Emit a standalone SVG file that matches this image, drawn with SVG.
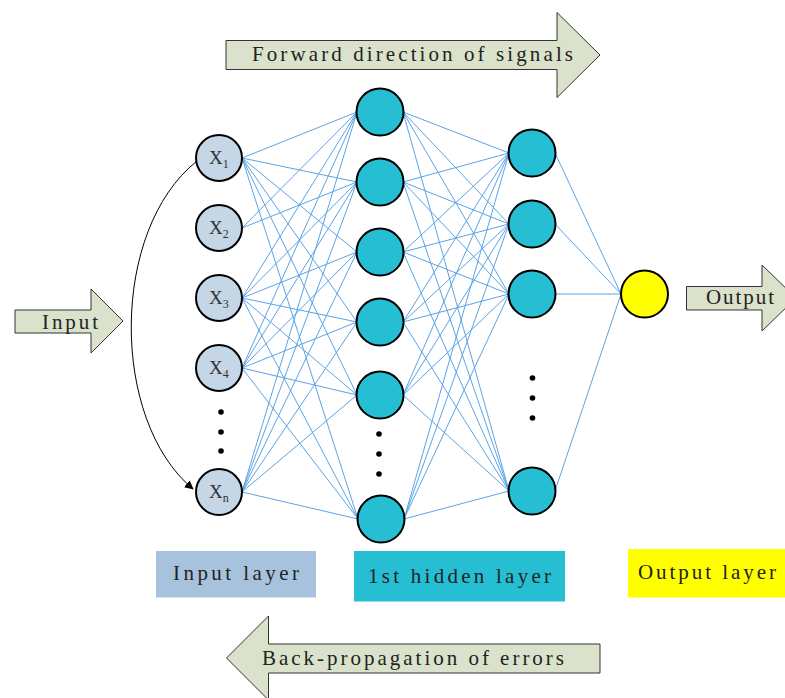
<svg xmlns="http://www.w3.org/2000/svg" width="785" height="698" viewBox="0 0 785 698">
<style>
.e{stroke:#5BA3E6;stroke-width:1;fill:none}
.in{fill:#C5D6E6;stroke:#000;stroke-width:2}
.hd{fill:#26BED3;stroke:#000;stroke-width:2}
.out{fill:#FFFF00;stroke:#000;stroke-width:2}
.ba{fill:#DAE2CC;stroke:#333;stroke-width:1}
.t{font-family:"Liberation Serif",serif;font-size:21px;fill:#222}
.x{font-family:"Liberation Serif",serif;font-size:19px;fill:#333}
.xs{font-size:12px}
.dot{fill:#000}
</style>
<defs>
<marker id="ah" viewBox="0 0 10 10" refX="9" refY="5" markerWidth="9" markerHeight="9" markerUnits="userSpaceOnUse" orient="auto">
<path d="M0,0 L10,5 L0,10 z" fill="#000"/>
</marker>
</defs>
<rect width="785" height="698" fill="#fff"/>

<g id="connectors">
<g class="e">
<line x1="242" y1="158" x2="357" y2="112"/><line x1="242" y1="158" x2="357" y2="182"/><line x1="242" y1="158" x2="357" y2="252"/><line x1="242" y1="158" x2="357" y2="322"/><line x1="242" y1="158" x2="357" y2="395"/><line x1="242" y1="158" x2="358" y2="519"/>
<line x1="242" y1="228" x2="357" y2="112"/><line x1="242" y1="228" x2="357" y2="182"/>
<line x1="242" y1="298" x2="357" y2="112"/><line x1="242" y1="298" x2="357" y2="182"/><line x1="242" y1="298" x2="357" y2="252"/><line x1="242" y1="298" x2="357" y2="322"/><line x1="242" y1="298" x2="357" y2="395"/><line x1="242" y1="298" x2="358" y2="519"/>
<line x1="242" y1="368" x2="357" y2="112"/><line x1="242" y1="368" x2="357" y2="182"/><line x1="242" y1="368" x2="357" y2="252"/><line x1="242" y1="368" x2="357" y2="322"/><line x1="242" y1="368" x2="357" y2="395"/><line x1="242" y1="368" x2="358" y2="519"/>
<line x1="242" y1="492" x2="357" y2="112"/><line x1="242" y1="492" x2="357" y2="182"/><line x1="242" y1="492" x2="357" y2="252"/><line x1="242" y1="492" x2="357" y2="322"/><line x1="242" y1="492" x2="357" y2="395"/><line x1="242" y1="492" x2="358" y2="519"/>

<line x1="403" y1="112" x2="509" y2="153"/><line x1="403" y1="112" x2="509" y2="224"/><line x1="403" y1="112" x2="509" y2="294"/><line x1="403" y1="112" x2="509" y2="491"/>
<line x1="403" y1="182" x2="509" y2="153"/><line x1="403" y1="182" x2="509" y2="224"/><line x1="403" y1="182" x2="509" y2="294"/><line x1="403" y1="182" x2="509" y2="491"/>
<line x1="403" y1="252" x2="509" y2="153"/><line x1="403" y1="252" x2="509" y2="224"/><line x1="403" y1="252" x2="509" y2="294"/><line x1="403" y1="252" x2="509" y2="491"/>
<line x1="403" y1="322" x2="509" y2="153"/><line x1="403" y1="322" x2="509" y2="224"/><line x1="403" y1="322" x2="509" y2="294"/><line x1="403" y1="322" x2="509" y2="491"/>
<line x1="403" y1="395" x2="509" y2="153"/><line x1="403" y1="395" x2="509" y2="224"/><line x1="403" y1="395" x2="509" y2="294"/><line x1="403" y1="395" x2="509" y2="491"/>
<line x1="404" y1="519" x2="509" y2="153"/><line x1="404" y1="519" x2="509" y2="224"/><line x1="404" y1="519" x2="509" y2="294"/><line x1="404" y1="519" x2="509" y2="491"/>

<line x1="555" y1="153" x2="621" y2="294"/><line x1="555" y1="224" x2="621" y2="294"/><line x1="555" y1="294" x2="621" y2="294"/><line x1="555" y1="491" x2="621" y2="294"/>
</g>
<path d="M197,161 C110,230 110,420 193,489" fill="none" stroke="#000" stroke-width="1" marker-end="url(#ah)"/>
</g>

<g id="input-nodes">
<g id="x1"><circle class="in" cx="219" cy="158" r="23"/><text class="x" x="209" y="164">X<tspan class="xs" dy="4">1</tspan></text></g>
<g id="x2"><circle class="in" cx="219" cy="228" r="23"/><text class="x" x="209" y="234">X<tspan class="xs" dy="4">2</tspan></text></g>
<g id="x3"><circle class="in" cx="219" cy="298" r="23"/><text class="x" x="209" y="304">X<tspan class="xs" dy="4">3</tspan></text></g>
<g id="x4"><circle class="in" cx="219" cy="368" r="23"/><text class="x" x="209" y="374">X<tspan class="xs" dy="4">4</tspan></text></g>
<g id="xn"><circle class="in" cx="219" cy="492" r="23"/><text class="x" x="209" y="498">X<tspan class="xs" dy="4">n</tspan></text></g>
<g id="input-dots"><circle class="dot" cx="221" cy="412" r="2.8"/><circle class="dot" cx="221" cy="432" r="2.8"/><circle class="dot" cx="221" cy="451" r="2.8"/></g>
</g>

<g id="hidden1-nodes">
<g id="h1"><circle class="hd" cx="380" cy="112" r="23.5"/></g>
<g id="h2"><circle class="hd" cx="380" cy="182" r="23.5"/></g>
<g id="h3"><circle class="hd" cx="380" cy="252" r="23.5"/></g>
<g id="h4"><circle class="hd" cx="380" cy="322" r="23.5"/></g>
<g id="h5"><circle class="hd" cx="380" cy="395" r="23.5"/></g>
<g id="h6"><circle class="hd" cx="381" cy="519" r="23.5"/></g>
<g id="hidden1-dots"><circle class="dot" cx="379" cy="434" r="2.8"/><circle class="dot" cx="379" cy="454" r="2.8"/><circle class="dot" cx="379" cy="474" r="2.8"/></g>
</g>

<g id="hidden2-nodes">
<g id="q1"><circle class="hd" cx="532" cy="153" r="23.5"/></g>
<g id="q2"><circle class="hd" cx="532" cy="224" r="23.5"/></g>
<g id="q3"><circle class="hd" cx="532" cy="294" r="23.5"/></g>
<g id="q4"><circle class="hd" cx="532" cy="491" r="23.5"/></g>
<g id="hidden2-dots"><circle class="dot" cx="532.5" cy="378" r="2.8"/><circle class="dot" cx="532.5" cy="398" r="2.8"/><circle class="dot" cx="532.5" cy="418" r="2.8"/></g>
</g>

<g id="output-node"><circle class="out" cx="644.5" cy="294" r="23.5"/></g>

<g id="forward-arrow">
<path class="ba" d="M226,40.5 H557 V12.5 L600,55 L557,97.5 V69.5 H226 Z"/>
<text class="t" x="252" y="61" textLength="321" lengthAdjust="spacing">Forward direction of signals</text>
</g>

<g id="input-arrow">
<path class="ba" d="M15,310 H91 V289 L123,321 L91,353 V333 H15 Z"/>
<text class="t" x="42" y="329" textLength="56" lengthAdjust="spacing">Input</text>
</g>

<g id="output-arrow">
<path class="ba" d="M686.5,286.5 H762 V265 L796,298 L762,331 V310 H686.5 Z"/>
<text class="t" x="706" y="304" textLength="68" lengthAdjust="spacing">Output</text>
</g>

<g id="back-arrow">
<path class="ba" d="M600,644 H268.5 V616 L226.5,658 L268.5,700 V673 H600 Z"/>
<text class="t" x="262" y="665" textLength="302" lengthAdjust="spacing">Back-propagation of errors</text>
</g>

<g id="legend-input"><rect x="156" y="551" width="160" height="46.5" fill="#A7C2DD"/><text class="t" x="173" y="580" textLength="126" lengthAdjust="spacing">Input layer</text></g>
<g id="legend-hidden"><rect x="354" y="551" width="211" height="50.5" fill="#25BED3"/><text class="t" x="368" y="583" textLength="183" lengthAdjust="spacing">1st hidden layer</text></g>
<g id="legend-output"><rect x="628" y="549" width="157" height="48.5" fill="#FFFF00"/><text class="t" x="638" y="579" textLength="138" lengthAdjust="spacing">Output layer</text></g>
</svg>
